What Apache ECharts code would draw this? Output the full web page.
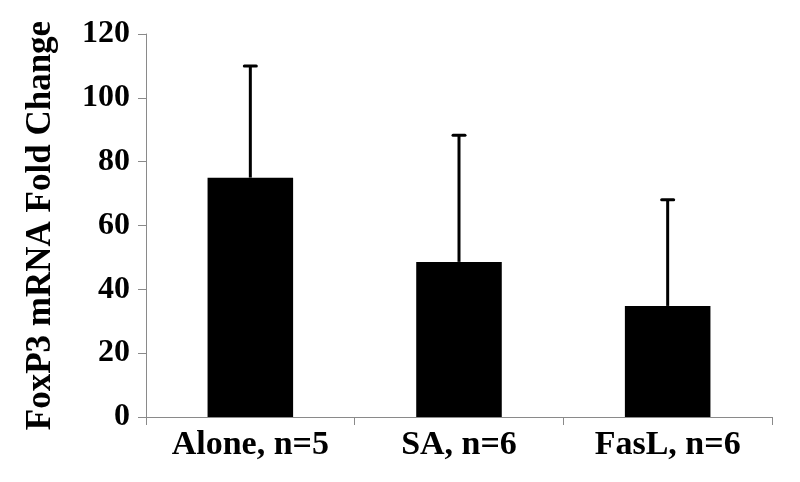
<!DOCTYPE html>
<html>
<head>
<meta charset="utf-8">
<script src="https://cdn.jsdelivr.net/npm/echarts@6/dist/echarts.min.js"></script>
<style>html,body{margin:0;padding:0;background:#fff;}#c{width:800px;height:482px;}</style>
</head>
<body>
<div id="c"></div>
<script>
var categories = ['Alone, n=5', 'SA, n=6', 'FasL, n=6'];
var means = [75, 48.6, 34.8];
var upperErrors = [110, 88.3, 68.1];
var yTicks = [0, 20, 40, 60, 80, 100, 120];

var chart = echarts.init(document.getElementById('c'), null, {renderer: 'canvas'});
var font = '"Liberation Serif", "Times New Roman", serif';
var errData = categories.map(function (c, i) { return [i, means[i], upperErrors[i]]; });

chart.setOption({
  animation: false,
  backgroundColor: '#ffffff',
  grid: {left: 146, right: 28, top: 34, bottom: 65},
  xAxis: {
    type: 'category',
    data: categories,
    axisLine: {lineStyle: {color: '#8a8a8a', width: 1}},
    axisTick: {show: true, length: 8, inside: false, alignWithLabel: false, lineStyle: {color: '#8a8a8a'}},
    axisLabel: {color: '#000', fontFamily: font, fontWeight: 'bold', fontSize: 34, margin: 11}
  },
  yAxis: {
    type: 'value',
    min: yTicks[0],
    max: yTicks[yTicks.length - 1],
    interval: 20,
    splitLine: {show: false},
    axisLine: {show: true, lineStyle: {color: '#8a8a8a', width: 1}},
    axisTick: {show: true, length: 8, lineStyle: {color: '#8a8a8a'}},
    axisLabel: {color: '#000', fontFamily: font, fontWeight: 'bold', fontSize: 32, margin: 16},
    name: 'FoxP3 mRNA Fold Change',
    nameLocation: 'middle',
    nameGap: 88,
    nameRotate: 90,
    nameTextStyle: {color: '#000', fontFamily: font, fontWeight: 'bold', fontSize: 35}
  },
  series: [
    {
      type: 'bar',
      data: means,
      barWidth: '41%',
      itemStyle: {color: '#000'},
      z: 2
    },
    {
      type: 'custom',
      data: errData,
      z: 3,
      renderItem: function (params, api) {
        var x = api.value(0);
        var base = api.coord([x, api.value(1)]);
        var top = api.coord([x, api.value(2)]);
        var capHalf = 6;
        return {
          type: 'group',
          children: [
            {type: 'line', shape: {x1: base[0], y1: base[1], x2: top[0], y2: top[1]}, style: {stroke: '#000', lineWidth: 3}},
            {type: 'line', shape: {x1: top[0] - capHalf, y1: top[1], x2: top[0] + capHalf, y2: top[1]}, style: {stroke: '#000', lineWidth: 3, lineCap: 'round'}}
          ]
        };
      }
    }
  ]
});
</script>
</body>
</html>
